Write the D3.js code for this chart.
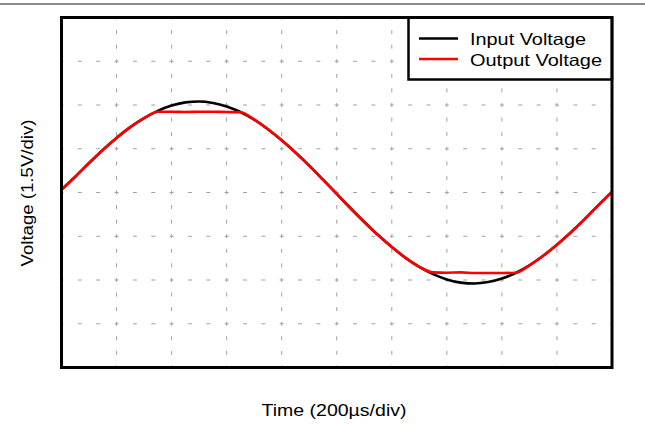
<!DOCTYPE html>
<html>
<head>
<meta charset="utf-8">
<script src="https://cdn.jsdelivr.net/npm/d3@7/dist/d3.min.js"></script>
<style>
  html, body { margin: 0; padding: 0; background: #fff; }
  svg { display: block; }
  text { font-family: "Liberation Sans", Arial, sans-serif; fill: #000; }
</style>
</head>
<body>
<svg id="chart" width="645" height="426"></svg>
<script>
// ---- data (time in µs, voltage in V; 200 µs/div, 1.5 V/div) ----
const timeUs = [0,50,100,150,200,250,300,350,400,450,500,550,600,650,700,750,800,850,900,950,
  1000,1050,1100,1150,1200,1250,1300,1350,1400,1450,1500,1550,1600,1650,1700,1750,1800,1850,1900,1950,2000];
const inputVoltage = [0.10,0.54,1.01,1.46,1.87,2.24,2.55,2.80,2.98,3.09,3.12,3.07,2.95,2.76,2.50,2.17,1.79,1.37,0.92,0.44,
  -0.05,-0.54,-1.01,-1.46,-1.87,-2.24,-2.55,-2.80,-2.98,-3.09,-3.12,-3.07,-2.95,-2.76,-2.50,-2.17,-1.79,-1.37,-0.92,-0.44,0.02];
const outputVoltage = [0.10,0.54,1.01,1.46,1.87,2.24,2.55,2.77,2.77,2.76,2.77,2.77,2.76,2.75,2.50,2.17,1.79,1.37,0.92,0.44,
  -0.05,-0.54,-1.01,-1.46,-1.87,-2.24,-2.55,-2.74,-2.75,-2.74,-2.76,-2.76,-2.76,-2.75,-2.50,-2.17,-1.79,-1.37,-0.92,-0.44,0.02];
const seriesNames = ["Input Voltage", "Output Voltage"];
const seriesColors = ["#000000", "#ff0000"];
const xDivisions = 10, yDivisions = 8;
const xLabel = "Time (200\u00b5s/div)";
const yLabel = "Voltage (1.5V/div)";

const svg = d3.select("#chart");
const L = 61.5, R = 612, T = 17.5, B = 367.5;

const x = d3.scaleLinear().domain([0, 2000]).range([L, R]);
const y = d3.scaleLinear().domain([-6, 6]).range([B, T]);

// top gray rule
svg.append("line").attr("x1", 0).attr("x2", 645).attr("y1", 4).attr("y2", 4)
  .attr("stroke", "#8a8a8a").attr("stroke-width", 2);

// grid
const xTicks = d3.range(1, xDivisions).map(i => i * 2000 / xDivisions);
const yTicks = d3.range(1, yDivisions).map(i => -6 + i * 12 / yDivisions);
const dx = (R - L) / xDivisions / 3, dy = (B - T) / yDivisions / 3;
svg.append("g").selectAll("line").data(xTicks).join("line")
  .attr("x1", d => x(d)).attr("x2", d => x(d)).attr("y1", T).attr("y2", B)
  .attr("stroke", "#a0a0a0").attr("stroke-width", 1)
  .attr("stroke-dasharray", `4,${(dy - 4).toFixed(2)}`)
  .attr("stroke-dashoffset", 2);
svg.append("g").selectAll("line").data(yTicks).join("line")
  .attr("x1", L).attr("x2", R).attr("y1", d => y(d)).attr("y2", d => y(d))
  .attr("stroke", "#a0a0a0").attr("stroke-width", 1)
  .attr("stroke-dasharray", `4,${(dx - 4).toFixed(2)}`)
  .attr("stroke-dashoffset", 2);

// series
const line = d3.line().x((d, i) => x(timeUs[i])).y(d => y(d)).curve(d3.curveMonotoneX);
const clip = svg.append("clipPath").attr("id", "pc").append("rect")
  .attr("x", L).attr("y", T).attr("width", R - L).attr("height", B - T);
[inputVoltage, outputVoltage].forEach((s, k) => {
  svg.append("path").datum(s).attr("d", line).attr("fill", "none")
    .attr("clip-path", "url(#pc)")
    .attr("stroke", seriesColors[k]).attr("stroke-width", 2.6)
    .attr("stroke-linejoin", "round");
});

// legend
const lg = svg.append("g");
lg.append("rect").attr("x", 408.5).attr("y", T).attr("width", R - 408.5).attr("height", 79.5 - T)
  .attr("fill", "#fff").attr("stroke", "#000").attr("stroke-width", 2.5);
seriesNames.forEach((n, i) => {
  const yy = 38.5 + i * 20.5;
  lg.append("line").attr("x1", 419).attr("x2", 458).attr("y1", yy).attr("y2", yy)
    .attr("stroke", seriesColors[i]).attr("stroke-width", 2.6);
  lg.append("text").attr("x", 470).attr("y", yy + 6.5).attr("font-size", 16.5)
    .attr("textLength", i === 0 ? 116 : 132).attr("lengthAdjust", "spacingAndGlyphs")
    .text(n);
});

// frame
svg.append("rect").attr("x", L).attr("y", T).attr("width", R - L).attr("height", B - T)
  .attr("fill", "none").attr("stroke", "#000").attr("stroke-width", 3);

// axis labels
svg.append("text").attr("x", 334).attr("y", 416).attr("text-anchor", "middle")
  .attr("font-size", 17).attr("textLength", 145).attr("lengthAdjust", "spacingAndGlyphs")
  .text(xLabel);
svg.append("text").attr("transform", "translate(33,193) rotate(-90)").attr("text-anchor", "middle")
  .attr("font-size", 16.5).attr("textLength", 147).attr("lengthAdjust", "spacingAndGlyphs")
  .text(yLabel);
</script>
</body>
</html>
